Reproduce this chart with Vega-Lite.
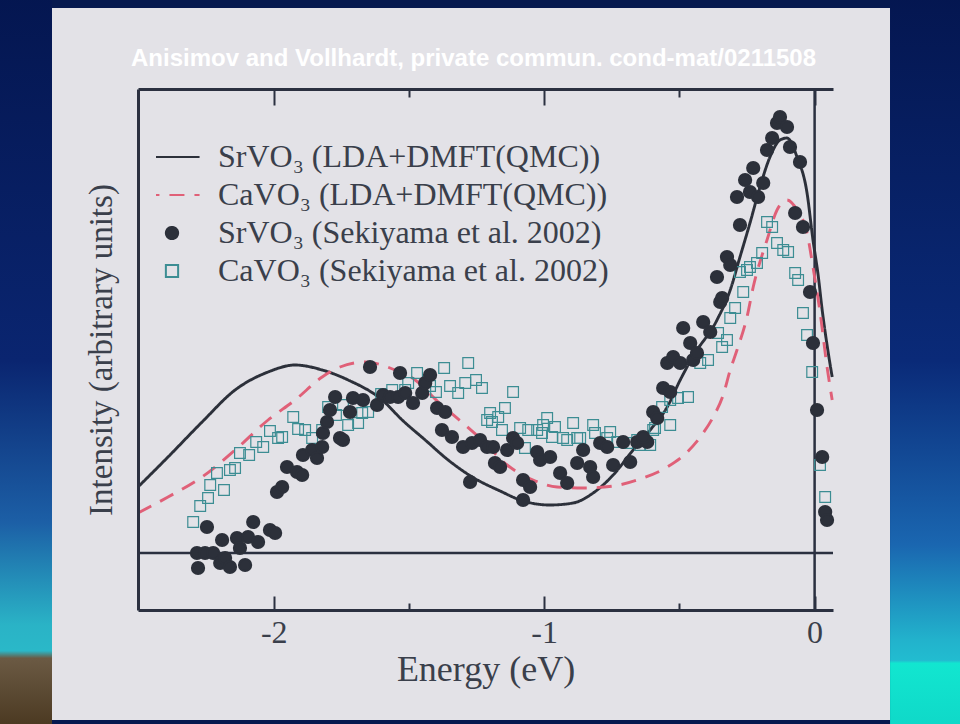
{
  "$schema": "https://vega.github.io/schema/vega-lite/v6.json",
  "width": 695,
  "height": 521,
  "autosize": {"type": "none"},
  "padding": {"left": 138, "top": 89, "right": 127, "bottom": 114},
  "background": "#06194f",
  "config": {
    "view": {"stroke": null},
    "axis": {
      "zindex": 1,
      "grid": false,
      "domainColor": "#2b3040",
      "domainWidth": 3,
      "tickColor": "#2b3040",
      "tickWidth": 2,
      "labelFont": "Liberation Serif",
      "labelFontSize": 32,
      "labelColor": "#3a3f4b",
      "titleFont": "Liberation Serif",
      "titleFontWeight": "normal",
      "titleColor": "#3a3f4b"
    }
  },
  "title": {
    "text": "Anisimov and Vollhardt, private commun. cond-mat/0211508",
    "font": "Liberation Sans",
    "fontWeight": "bold",
    "fontSize": 24,
    "color": "#ffffff",
    "anchor": "middle",
    "frame": "group",
    "baseline": "alphabetic",
    "offset": -97,
    "dx": -12
  },
  "resolve": {"axis": {"x": "independent", "y": "independent"}},
  "datasets": {
    "theory": [
      {"series": "SrVO₃ (LDA+DMFT(QMC))", "energy": -2.502, "intensity": 0.66},
      {"series": "SrVO₃ (LDA+DMFT(QMC))", "energy": -2.391, "intensity": 0.96},
      {"series": "SrVO₃ (LDA+DMFT(QMC))", "energy": -2.265, "intensity": 1.31},
      {"series": "SrVO₃ (LDA+DMFT(QMC))", "energy": -2.143, "intensity": 1.63},
      {"series": "SrVO₃ (LDA+DMFT(QMC))", "energy": -2.021, "intensity": 1.81},
      {"series": "SrVO₃ (LDA+DMFT(QMC))", "energy": -1.921, "intensity": 1.88},
      {"series": "SrVO₃ (LDA+DMFT(QMC))", "energy": -1.821, "intensity": 1.83},
      {"series": "SrVO₃ (LDA+DMFT(QMC))", "energy": -1.725, "intensity": 1.73},
      {"series": "SrVO₃ (LDA+DMFT(QMC))", "energy": -1.599, "intensity": 1.53},
      {"series": "SrVO₃ (LDA+DMFT(QMC))", "energy": -1.525, "intensity": 1.33},
      {"series": "SrVO₃ (LDA+DMFT(QMC))", "energy": -1.44, "intensity": 1.13},
      {"series": "SrVO₃ (LDA+DMFT(QMC))", "energy": -1.355, "intensity": 0.93},
      {"series": "SrVO₃ (LDA+DMFT(QMC))", "energy": -1.266, "intensity": 0.76},
      {"series": "SrVO₃ (LDA+DMFT(QMC))", "energy": -1.163, "intensity": 0.62},
      {"series": "SrVO₃ (LDA+DMFT(QMC))", "energy": -1.078, "intensity": 0.52},
      {"series": "SrVO₃ (LDA+DMFT(QMC))", "energy": -0.978, "intensity": 0.48},
      {"series": "SrVO₃ (LDA+DMFT(QMC))", "energy": -0.893, "intensity": 0.5},
      {"series": "SrVO₃ (LDA+DMFT(QMC))", "energy": -0.819, "intensity": 0.6},
      {"series": "SrVO₃ (LDA+DMFT(QMC))", "energy": -0.745, "intensity": 0.78},
      {"series": "SrVO₃ (LDA+DMFT(QMC))", "energy": -0.671, "intensity": 1.03},
      {"series": "SrVO₃ (LDA+DMFT(QMC))", "energy": -0.608, "intensity": 1.23},
      {"series": "SrVO₃ (LDA+DMFT(QMC))", "energy": -0.545, "intensity": 1.46},
      {"series": "SrVO₃ (LDA+DMFT(QMC))", "energy": -0.497, "intensity": 1.73},
      {"series": "SrVO₃ (LDA+DMFT(QMC))", "energy": -0.449, "intensity": 1.97},
      {"series": "SrVO₃ (LDA+DMFT(QMC))", "energy": -0.361, "intensity": 2.33},
      {"series": "SrVO₃ (LDA+DMFT(QMC))", "energy": -0.312, "intensity": 2.63},
      {"series": "SrVO₃ (LDA+DMFT(QMC))", "energy": -0.276, "intensity": 2.96},
      {"series": "SrVO₃ (LDA+DMFT(QMC))", "energy": -0.239, "intensity": 3.3},
      {"series": "SrVO₃ (LDA+DMFT(QMC))", "energy": -0.202, "intensity": 3.66},
      {"series": "SrVO₃ (LDA+DMFT(QMC))", "energy": -0.165, "intensity": 3.96},
      {"series": "SrVO₃ (LDA+DMFT(QMC))", "energy": -0.128, "intensity": 4.13},
      {"series": "SrVO₃ (LDA+DMFT(QMC))", "energy": -0.102, "intensity": 4.15},
      {"series": "SrVO₃ (LDA+DMFT(QMC))", "energy": -0.065, "intensity": 3.96},
      {"series": "SrVO₃ (LDA+DMFT(QMC))", "energy": -0.028, "intensity": 3.6},
      {"series": "SrVO₃ (LDA+DMFT(QMC))", "energy": -0.006, "intensity": 3.13},
      {"series": "SrVO₃ (LDA+DMFT(QMC))", "energy": 0.013, "intensity": 2.78},
      {"series": "SrVO₃ (LDA+DMFT(QMC))", "energy": 0.028, "intensity": 2.43},
      {"series": "SrVO₃ (LDA+DMFT(QMC))", "energy": 0.046, "intensity": 2.08},
      {"series": "SrVO₃ (LDA+DMFT(QMC))", "energy": 0.065, "intensity": 1.76},
      {"series": "CaVO₃ (LDA+DMFT(QMC))", "energy": -2.502, "intensity": 0.4},
      {"series": "CaVO₃ (LDA+DMFT(QMC))", "energy": -2.391, "intensity": 0.56},
      {"series": "CaVO₃ (LDA+DMFT(QMC))", "energy": -2.265, "intensity": 0.76},
      {"series": "CaVO₃ (LDA+DMFT(QMC))", "energy": -2.143, "intensity": 1.03},
      {"series": "CaVO₃ (LDA+DMFT(QMC))", "energy": -2.021, "intensity": 1.33},
      {"series": "CaVO₃ (LDA+DMFT(QMC))", "energy": -1.921, "intensity": 1.53},
      {"series": "CaVO₃ (LDA+DMFT(QMC))", "energy": -1.821, "intensity": 1.76},
      {"series": "CaVO₃ (LDA+DMFT(QMC))", "energy": -1.755, "intensity": 1.86},
      {"series": "CaVO₃ (LDA+DMFT(QMC))", "energy": -1.662, "intensity": 1.91},
      {"series": "CaVO₃ (LDA+DMFT(QMC))", "energy": -1.551, "intensity": 1.83},
      {"series": "CaVO₃ (LDA+DMFT(QMC))", "energy": -1.477, "intensity": 1.73},
      {"series": "CaVO₃ (LDA+DMFT(QMC))", "energy": -1.392, "intensity": 1.51},
      {"series": "CaVO₃ (LDA+DMFT(QMC))", "energy": -1.292, "intensity": 1.28},
      {"series": "CaVO₃ (LDA+DMFT(QMC))", "energy": -1.23, "intensity": 1.13},
      {"series": "CaVO₃ (LDA+DMFT(QMC))", "energy": -1.137, "intensity": 0.88},
      {"series": "CaVO₃ (LDA+DMFT(QMC))", "energy": -1.041, "intensity": 0.73},
      {"series": "CaVO₃ (LDA+DMFT(QMC))", "energy": -0.952, "intensity": 0.66},
      {"series": "CaVO₃ (LDA+DMFT(QMC))", "energy": -0.856, "intensity": 0.65},
      {"series": "CaVO₃ (LDA+DMFT(QMC))", "energy": -0.745, "intensity": 0.67},
      {"series": "CaVO₃ (LDA+DMFT(QMC))", "energy": -0.645, "intensity": 0.74},
      {"series": "CaVO₃ (LDA+DMFT(QMC))", "energy": -0.545, "intensity": 0.86},
      {"series": "CaVO₃ (LDA+DMFT(QMC))", "energy": -0.471, "intensity": 1.01},
      {"series": "CaVO₃ (LDA+DMFT(QMC))", "energy": -0.412, "intensity": 1.2},
      {"series": "CaVO₃ (LDA+DMFT(QMC))", "energy": -0.375, "intensity": 1.36},
      {"series": "CaVO₃ (LDA+DMFT(QMC))", "energy": -0.338, "intensity": 1.58},
      {"series": "CaVO₃ (LDA+DMFT(QMC))", "energy": -0.312, "intensity": 1.83},
      {"series": "CaVO₃ (LDA+DMFT(QMC))", "energy": -0.287, "intensity": 2.03},
      {"series": "CaVO₃ (LDA+DMFT(QMC))", "energy": -0.25, "intensity": 2.36},
      {"series": "CaVO₃ (LDA+DMFT(QMC))", "energy": -0.227, "intensity": 2.66},
      {"series": "CaVO₃ (LDA+DMFT(QMC))", "energy": -0.176, "intensity": 3.13},
      {"series": "CaVO₃ (LDA+DMFT(QMC))", "energy": -0.139, "intensity": 3.43},
      {"series": "CaVO₃ (LDA+DMFT(QMC))", "energy": -0.102, "intensity": 3.53},
      {"series": "CaVO₃ (LDA+DMFT(QMC))", "energy": -0.065, "intensity": 3.43},
      {"series": "CaVO₃ (LDA+DMFT(QMC))", "energy": -0.028, "intensity": 3.2},
      {"series": "CaVO₃ (LDA+DMFT(QMC))", "energy": -0.006, "intensity": 2.86},
      {"series": "CaVO₃ (LDA+DMFT(QMC))", "energy": 0.02, "intensity": 2.41},
      {"series": "CaVO₃ (LDA+DMFT(QMC))", "energy": 0.046, "intensity": 1.86},
      {"series": "CaVO₃ (LDA+DMFT(QMC))", "energy": 0.065, "intensity": 1.53}
    ],
    "experiment": [
      {"series": "SrVO₃ (Sekiyama et al. 2002)", "energy": -2.284, "intensity": 0.0},
      {"series": "SrVO₃ (Sekiyama et al. 2002)", "energy": -2.28, "intensity": -0.15},
      {"series": "SrVO₃ (Sekiyama et al. 2002)", "energy": -2.254, "intensity": 0.0},
      {"series": "SrVO₃ (Sekiyama et al. 2002)", "energy": -2.247, "intensity": 0.26},
      {"series": "SrVO₃ (Sekiyama et al. 2002)", "energy": -2.224, "intensity": 0.0},
      {"series": "SrVO₃ (Sekiyama et al. 2002)", "energy": -2.198, "intensity": -0.1},
      {"series": "SrVO₃ (Sekiyama et al. 2002)", "energy": -2.191, "intensity": 0.13},
      {"series": "SrVO₃ (Sekiyama et al. 2002)", "energy": -2.18, "intensity": -0.05},
      {"series": "SrVO₃ (Sekiyama et al. 2002)", "energy": -2.162, "intensity": -0.14},
      {"series": "SrVO₃ (Sekiyama et al. 2002)", "energy": -2.136, "intensity": 0.15},
      {"series": "SrVO₃ (Sekiyama et al. 2002)", "energy": -2.125, "intensity": 0.05},
      {"series": "SrVO₃ (Sekiyama et al. 2002)", "energy": -2.106, "intensity": -0.12},
      {"series": "SrVO₃ (Sekiyama et al. 2002)", "energy": -2.095, "intensity": 0.16},
      {"series": "SrVO₃ (Sekiyama et al. 2002)", "energy": -2.076, "intensity": 0.31},
      {"series": "SrVO₃ (Sekiyama et al. 2002)", "energy": -2.058, "intensity": 0.11},
      {"series": "SrVO₃ (Sekiyama et al. 2002)", "energy": -2.014, "intensity": 0.23},
      {"series": "SrVO₃ (Sekiyama et al. 2002)", "energy": -1.995, "intensity": 0.2},
      {"series": "SrVO₃ (Sekiyama et al. 2002)", "energy": -1.988, "intensity": 0.61},
      {"series": "SrVO₃ (Sekiyama et al. 2002)", "energy": -1.969, "intensity": 0.66},
      {"series": "SrVO₃ (Sekiyama et al. 2002)", "energy": -1.951, "intensity": 0.86},
      {"series": "SrVO₃ (Sekiyama et al. 2002)", "energy": -1.914, "intensity": 0.81},
      {"series": "SrVO₃ (Sekiyama et al. 2002)", "energy": -1.895, "intensity": 0.78},
      {"series": "SrVO₃ (Sekiyama et al. 2002)", "energy": -1.892, "intensity": 0.98},
      {"series": "SrVO₃ (Sekiyama et al. 2002)", "energy": -1.858, "intensity": 1.03},
      {"series": "SrVO₃ (Sekiyama et al. 2002)", "energy": -1.84, "intensity": 0.95},
      {"series": "SrVO₃ (Sekiyama et al. 2002)", "energy": -1.821, "intensity": 1.06},
      {"series": "SrVO₃ (Sekiyama et al. 2002)", "energy": -1.818, "intensity": 1.2},
      {"series": "SrVO₃ (Sekiyama et al. 2002)", "energy": -1.803, "intensity": 1.31},
      {"series": "SrVO₃ (Sekiyama et al. 2002)", "energy": -1.792, "intensity": 1.43},
      {"series": "SrVO₃ (Sekiyama et al. 2002)", "energy": -1.773, "intensity": 1.56},
      {"series": "SrVO₃ (Sekiyama et al. 2002)", "energy": -1.755, "intensity": 1.15},
      {"series": "SrVO₃ (Sekiyama et al. 2002)", "energy": -1.744, "intensity": 1.13},
      {"series": "SrVO₃ (Sekiyama et al. 2002)", "energy": -1.718, "intensity": 1.41},
      {"series": "SrVO₃ (Sekiyama et al. 2002)", "energy": -1.707, "intensity": 1.55},
      {"series": "SrVO₃ (Sekiyama et al. 2002)", "energy": -1.67, "intensity": 1.53},
      {"series": "SrVO₃ (Sekiyama et al. 2002)", "energy": -1.644, "intensity": 1.86},
      {"series": "SrVO₃ (Sekiyama et al. 2002)", "energy": -1.618, "intensity": 1.48},
      {"series": "SrVO₃ (Sekiyama et al. 2002)", "energy": -1.596, "intensity": 1.58},
      {"series": "SrVO₃ (Sekiyama et al. 2002)", "energy": -1.57, "intensity": 1.56},
      {"series": "SrVO₃ (Sekiyama et al. 2002)", "energy": -1.54, "intensity": 1.56},
      {"series": "SrVO₃ (Sekiyama et al. 2002)", "energy": -1.533, "intensity": 1.8},
      {"series": "SrVO₃ (Sekiyama et al. 2002)", "energy": -1.514, "intensity": 1.6},
      {"series": "SrVO₃ (Sekiyama et al. 2002)", "energy": -1.485, "intensity": 1.5},
      {"series": "SrVO₃ (Sekiyama et al. 2002)", "energy": -1.451, "intensity": 1.6},
      {"series": "SrVO₃ (Sekiyama et al. 2002)", "energy": -1.44, "intensity": 1.7},
      {"series": "SrVO₃ (Sekiyama et al. 2002)", "energy": -1.422, "intensity": 1.78},
      {"series": "SrVO₃ (Sekiyama et al. 2002)", "energy": -1.396, "intensity": 1.45},
      {"series": "SrVO₃ (Sekiyama et al. 2002)", "energy": -1.366, "intensity": 1.41},
      {"series": "SrVO₃ (Sekiyama et al. 2002)", "energy": -1.378, "intensity": 1.23},
      {"series": "SrVO₃ (Sekiyama et al. 2002)", "energy": -1.341, "intensity": 1.16},
      {"series": "SrVO₃ (Sekiyama et al. 2002)", "energy": -1.3, "intensity": 1.06},
      {"series": "SrVO₃ (Sekiyama et al. 2002)", "energy": -1.274, "intensity": 0.71},
      {"series": "SrVO₃ (Sekiyama et al. 2002)", "energy": -1.267, "intensity": 1.1},
      {"series": "SrVO₃ (Sekiyama et al. 2002)", "energy": -1.237, "intensity": 1.13},
      {"series": "SrVO₃ (Sekiyama et al. 2002)", "energy": -1.211, "intensity": 1.06},
      {"series": "SrVO₃ (Sekiyama et al. 2002)", "energy": -1.182, "intensity": 0.9},
      {"series": "SrVO₃ (Sekiyama et al. 2002)", "energy": -1.189, "intensity": 1.06},
      {"series": "SrVO₃ (Sekiyama et al. 2002)", "energy": -1.163, "intensity": 0.86},
      {"series": "SrVO₃ (Sekiyama et al. 2002)", "energy": -1.137, "intensity": 1.03},
      {"series": "SrVO₃ (Sekiyama et al. 2002)", "energy": -1.115, "intensity": 1.15},
      {"series": "SrVO₃ (Sekiyama et al. 2002)", "energy": -1.1, "intensity": 1.1},
      {"series": "SrVO₃ (Sekiyama et al. 2002)", "energy": -1.078, "intensity": 0.73},
      {"series": "SrVO₃ (Sekiyama et al. 2002)", "energy": -1.052, "intensity": 0.66},
      {"series": "SrVO₃ (Sekiyama et al. 2002)", "energy": -1.026, "intensity": 1.01},
      {"series": "SrVO₃ (Sekiyama et al. 2002)", "energy": -1.015, "intensity": 0.93},
      {"series": "SrVO₃ (Sekiyama et al. 2002)", "energy": -0.978, "intensity": 0.96},
      {"series": "SrVO₃ (Sekiyama et al. 2002)", "energy": -1.078, "intensity": 0.53},
      {"series": "SrVO₃ (Sekiyama et al. 2002)", "energy": -0.941, "intensity": 0.8},
      {"series": "SrVO₃ (Sekiyama et al. 2002)", "energy": -0.915, "intensity": 0.7},
      {"series": "SrVO₃ (Sekiyama et al. 2002)", "energy": -0.878, "intensity": 0.9},
      {"series": "SrVO₃ (Sekiyama et al. 2002)", "energy": -0.856, "intensity": 1.03},
      {"series": "SrVO₃ (Sekiyama et al. 2002)", "energy": -0.83, "intensity": 0.86},
      {"series": "SrVO₃ (Sekiyama et al. 2002)", "energy": -0.819, "intensity": 0.76},
      {"series": "SrVO₃ (Sekiyama et al. 2002)", "energy": -0.793, "intensity": 1.1},
      {"series": "SrVO₃ (Sekiyama et al. 2002)", "energy": -0.767, "intensity": 1.06},
      {"series": "SrVO₃ (Sekiyama et al. 2002)", "energy": -0.745, "intensity": 0.88},
      {"series": "SrVO₃ (Sekiyama et al. 2002)", "energy": -0.708, "intensity": 1.11},
      {"series": "SrVO₃ (Sekiyama et al. 2002)", "energy": -0.682, "intensity": 0.91},
      {"series": "SrVO₃ (Sekiyama et al. 2002)", "energy": -0.656, "intensity": 1.11},
      {"series": "SrVO₃ (Sekiyama et al. 2002)", "energy": -0.619, "intensity": 1.11},
      {"series": "SrVO₃ (Sekiyama et al. 2002)", "energy": -0.634, "intensity": 1.16},
      {"series": "SrVO₃ (Sekiyama et al. 2002)", "energy": -0.597, "intensity": 1.41},
      {"series": "SrVO₃ (Sekiyama et al. 2002)", "energy": -0.582, "intensity": 1.35},
      {"series": "SrVO₃ (Sekiyama et al. 2002)", "energy": -0.56, "intensity": 1.65},
      {"series": "SrVO₃ (Sekiyama et al. 2002)", "energy": -0.534, "intensity": 1.61},
      {"series": "SrVO₃ (Sekiyama et al. 2002)", "energy": -0.545, "intensity": 1.9},
      {"series": "SrVO₃ (Sekiyama et al. 2002)", "energy": -0.523, "intensity": 1.96},
      {"series": "SrVO₃ (Sekiyama et al. 2002)", "energy": -0.497, "intensity": 1.9},
      {"series": "SrVO₃ (Sekiyama et al. 2002)", "energy": -0.46, "intensity": 2.1},
      {"series": "SrVO₃ (Sekiyama et al. 2002)", "energy": -0.449, "intensity": 1.93},
      {"series": "SrVO₃ (Sekiyama et al. 2002)", "energy": -0.435, "intensity": 2.0},
      {"series": "SrVO₃ (Sekiyama et al. 2002)", "energy": -0.486, "intensity": 2.25},
      {"series": "SrVO₃ (Sekiyama et al. 2002)", "energy": -0.412, "intensity": 2.31},
      {"series": "SrVO₃ (Sekiyama et al. 2002)", "energy": -0.386, "intensity": 2.21},
      {"series": "SrVO₃ (Sekiyama et al. 2002)", "energy": -0.349, "intensity": 2.51},
      {"series": "SrVO₃ (Sekiyama et al. 2002)", "energy": -0.342, "intensity": 2.55},
      {"series": "SrVO₃ (Sekiyama et al. 2002)", "energy": -0.361, "intensity": 2.76},
      {"series": "SrVO₃ (Sekiyama et al. 2002)", "energy": -0.324, "intensity": 2.96},
      {"series": "SrVO₃ (Sekiyama et al. 2002)", "energy": -0.312, "intensity": 2.88},
      {"series": "SrVO₃ (Sekiyama et al. 2002)", "energy": -0.276, "intensity": 3.28},
      {"series": "SrVO₃ (Sekiyama et al. 2002)", "energy": -0.287, "intensity": 3.56},
      {"series": "SrVO₃ (Sekiyama et al. 2002)", "energy": -0.239, "intensity": 3.61},
      {"series": "SrVO₃ (Sekiyama et al. 2002)", "energy": -0.209, "intensity": 3.56},
      {"series": "SrVO₃ (Sekiyama et al. 2002)", "energy": -0.257, "intensity": 3.73},
      {"series": "SrVO₃ (Sekiyama et al. 2002)", "energy": -0.227, "intensity": 3.85},
      {"series": "SrVO₃ (Sekiyama et al. 2002)", "energy": -0.19, "intensity": 3.7},
      {"series": "SrVO₃ (Sekiyama et al. 2002)", "energy": -0.176, "intensity": 4.03},
      {"series": "SrVO₃ (Sekiyama et al. 2002)", "energy": -0.157, "intensity": 4.15},
      {"series": "SrVO₃ (Sekiyama et al. 2002)", "energy": -0.139, "intensity": 4.3},
      {"series": "SrVO₃ (Sekiyama et al. 2002)", "energy": -0.128, "intensity": 4.36},
      {"series": "SrVO₃ (Sekiyama et al. 2002)", "energy": -0.102, "intensity": 4.26},
      {"series": "SrVO₃ (Sekiyama et al. 2002)", "energy": -0.091, "intensity": 4.06},
      {"series": "SrVO₃ (Sekiyama et al. 2002)", "energy": -0.054, "intensity": 3.91},
      {"series": "SrVO₃ (Sekiyama et al. 2002)", "energy": -0.072, "intensity": 3.4},
      {"series": "SrVO₃ (Sekiyama et al. 2002)", "energy": -0.043, "intensity": 3.26},
      {"series": "SrVO₃ (Sekiyama et al. 2002)", "energy": -0.017, "intensity": 2.61},
      {"series": "SrVO₃ (Sekiyama et al. 2002)", "energy": -0.006, "intensity": 2.1},
      {"series": "SrVO₃ (Sekiyama et al. 2002)", "energy": 0.009, "intensity": 1.43},
      {"series": "SrVO₃ (Sekiyama et al. 2002)", "energy": 0.028, "intensity": 0.96},
      {"series": "SrVO₃ (Sekiyama et al. 2002)", "energy": 0.039, "intensity": 0.41},
      {"series": "SrVO₃ (Sekiyama et al. 2002)", "energy": 0.046, "intensity": 0.33},
      {"series": "CaVO₃ (Sekiyama et al. 2002)", "energy": -2.298, "intensity": 0.31},
      {"series": "CaVO₃ (Sekiyama et al. 2002)", "energy": -2.272, "intensity": 0.47},
      {"series": "CaVO₃ (Sekiyama et al. 2002)", "energy": -2.243, "intensity": 0.55},
      {"series": "CaVO₃ (Sekiyama et al. 2002)", "energy": -2.235, "intensity": 0.68},
      {"series": "CaVO₃ (Sekiyama et al. 2002)", "energy": -2.21, "intensity": 0.8},
      {"series": "CaVO₃ (Sekiyama et al. 2002)", "energy": -2.184, "intensity": 0.63},
      {"series": "CaVO₃ (Sekiyama et al. 2002)", "energy": -2.162, "intensity": 0.83},
      {"series": "CaVO₃ (Sekiyama et al. 2002)", "energy": -2.143, "intensity": 0.85},
      {"series": "CaVO₃ (Sekiyama et al. 2002)", "energy": -2.125, "intensity": 1.0},
      {"series": "CaVO₃ (Sekiyama et al. 2002)", "energy": -2.091, "intensity": 0.98},
      {"series": "CaVO₃ (Sekiyama et al. 2002)", "energy": -2.065, "intensity": 1.11},
      {"series": "CaVO₃ (Sekiyama et al. 2002)", "energy": -2.039, "intensity": 1.06},
      {"series": "CaVO₃ (Sekiyama et al. 2002)", "energy": -2.014, "intensity": 1.22},
      {"series": "CaVO₃ (Sekiyama et al. 2002)", "energy": -1.984, "intensity": 1.15},
      {"series": "CaVO₃ (Sekiyama et al. 2002)", "energy": -1.969, "intensity": 1.16},
      {"series": "CaVO₃ (Sekiyama et al. 2002)", "energy": -1.928, "intensity": 1.36},
      {"series": "CaVO₃ (Sekiyama et al. 2002)", "energy": -1.91, "intensity": 1.24},
      {"series": "CaVO₃ (Sekiyama et al. 2002)", "energy": -1.884, "intensity": 1.23},
      {"series": "CaVO₃ (Sekiyama et al. 2002)", "energy": -1.858, "intensity": 1.15},
      {"series": "CaVO₃ (Sekiyama et al. 2002)", "energy": -1.821, "intensity": 1.23},
      {"series": "CaVO₃ (Sekiyama et al. 2002)", "energy": -1.799, "intensity": 1.46},
      {"series": "CaVO₃ (Sekiyama et al. 2002)", "energy": -1.77, "intensity": 1.38},
      {"series": "CaVO₃ (Sekiyama et al. 2002)", "energy": -1.744, "intensity": 1.48},
      {"series": "CaVO₃ (Sekiyama et al. 2002)", "energy": -1.725, "intensity": 1.28},
      {"series": "CaVO₃ (Sekiyama et al. 2002)", "energy": -1.688, "intensity": 1.3},
      {"series": "CaVO₃ (Sekiyama et al. 2002)", "energy": -1.673, "intensity": 1.4},
      {"series": "CaVO₃ (Sekiyama et al. 2002)", "energy": -1.651, "intensity": 1.41},
      {"series": "CaVO₃ (Sekiyama et al. 2002)", "energy": -1.603, "intensity": 1.59},
      {"series": "CaVO₃ (Sekiyama et al. 2002)", "energy": -1.562, "intensity": 1.63},
      {"series": "CaVO₃ (Sekiyama et al. 2002)", "energy": -1.514, "intensity": 1.63},
      {"series": "CaVO₃ (Sekiyama et al. 2002)", "energy": -1.503, "intensity": 1.7},
      {"series": "CaVO₃ (Sekiyama et al. 2002)", "energy": -1.47, "intensity": 1.8},
      {"series": "CaVO₃ (Sekiyama et al. 2002)", "energy": -1.422, "intensity": 1.67},
      {"series": "CaVO₃ (Sekiyama et al. 2002)", "energy": -1.4, "intensity": 1.61},
      {"series": "CaVO₃ (Sekiyama et al. 2002)", "energy": -1.37, "intensity": 1.85},
      {"series": "CaVO₃ (Sekiyama et al. 2002)", "energy": -1.348, "intensity": 1.67},
      {"series": "CaVO₃ (Sekiyama et al. 2002)", "energy": -1.318, "intensity": 1.6},
      {"series": "CaVO₃ (Sekiyama et al. 2002)", "energy": -1.292, "intensity": 1.7},
      {"series": "CaVO₃ (Sekiyama et al. 2002)", "energy": -1.281, "intensity": 1.9},
      {"series": "CaVO₃ (Sekiyama et al. 2002)", "energy": -1.252, "intensity": 1.73},
      {"series": "CaVO₃ (Sekiyama et al. 2002)", "energy": -1.23, "intensity": 1.65},
      {"series": "CaVO₃ (Sekiyama et al. 2002)", "energy": -1.211, "intensity": 1.33},
      {"series": "CaVO₃ (Sekiyama et al. 2002)", "energy": -1.193, "intensity": 1.31},
      {"series": "CaVO₃ (Sekiyama et al. 2002)", "energy": -1.2, "intensity": 1.4},
      {"series": "CaVO₃ (Sekiyama et al. 2002)", "energy": -1.17, "intensity": 1.36},
      {"series": "CaVO₃ (Sekiyama et al. 2002)", "energy": -1.145, "intensity": 1.45},
      {"series": "CaVO₃ (Sekiyama et al. 2002)", "energy": -1.156, "intensity": 1.23},
      {"series": "CaVO₃ (Sekiyama et al. 2002)", "energy": -1.115, "intensity": 1.61},
      {"series": "CaVO₃ (Sekiyama et al. 2002)", "energy": -1.089, "intensity": 1.25},
      {"series": "CaVO₃ (Sekiyama et al. 2002)", "energy": -1.071, "intensity": 1.05},
      {"series": "CaVO₃ (Sekiyama et al. 2002)", "energy": -1.059, "intensity": 1.23},
      {"series": "CaVO₃ (Sekiyama et al. 2002)", "energy": -1.026, "intensity": 1.23},
      {"series": "CaVO₃ (Sekiyama et al. 2002)", "energy": -1.004, "intensity": 1.28},
      {"series": "CaVO₃ (Sekiyama et al. 2002)", "energy": -0.989, "intensity": 1.35},
      {"series": "CaVO₃ (Sekiyama et al. 2002)", "energy": -1.008, "intensity": 1.2},
      {"series": "CaVO₃ (Sekiyama et al. 2002)", "energy": -0.96, "intensity": 1.26},
      {"series": "CaVO₃ (Sekiyama et al. 2002)", "energy": -0.971, "intensity": 1.16},
      {"series": "CaVO₃ (Sekiyama et al. 2002)", "energy": -0.93, "intensity": 1.15},
      {"series": "CaVO₃ (Sekiyama et al. 2002)", "energy": -0.893, "intensity": 1.3},
      {"series": "CaVO₃ (Sekiyama et al. 2002)", "energy": -0.878, "intensity": 1.15},
      {"series": "CaVO₃ (Sekiyama et al. 2002)", "energy": -0.819, "intensity": 1.28},
      {"series": "CaVO₃ (Sekiyama et al. 2002)", "energy": -0.812, "intensity": 1.2},
      {"series": "CaVO₃ (Sekiyama et al. 2002)", "energy": -0.756, "intensity": 1.21},
      {"series": "CaVO₃ (Sekiyama et al. 2002)", "energy": -0.767, "intensity": 1.15},
      {"series": "CaVO₃ (Sekiyama et al. 2002)", "energy": -0.915, "intensity": 1.13},
      {"series": "CaVO₃ (Sekiyama et al. 2002)", "energy": -0.867, "intensity": 1.15},
      {"series": "CaVO₃ (Sekiyama et al. 2002)", "energy": -0.73, "intensity": 1.11},
      {"series": "CaVO₃ (Sekiyama et al. 2002)", "energy": -0.693, "intensity": 1.1},
      {"series": "CaVO₃ (Sekiyama et al. 2002)", "energy": -0.656, "intensity": 1.13},
      {"series": "CaVO₃ (Sekiyama et al. 2002)", "energy": -0.645, "intensity": 1.08},
      {"series": "CaVO₃ (Sekiyama et al. 2002)", "energy": -0.597, "intensity": 1.23},
      {"series": "CaVO₃ (Sekiyama et al. 2002)", "energy": -0.608, "intensity": 1.08},
      {"series": "CaVO₃ (Sekiyama et al. 2002)", "energy": -0.59, "intensity": 1.25},
      {"series": "CaVO₃ (Sekiyama et al. 2002)", "energy": -0.564, "intensity": 1.46},
      {"series": "CaVO₃ (Sekiyama et al. 2002)", "energy": -0.534, "intensity": 1.28},
      {"series": "CaVO₃ (Sekiyama et al. 2002)", "energy": -0.534, "intensity": 1.53},
      {"series": "CaVO₃ (Sekiyama et al. 2002)", "energy": -0.505, "intensity": 1.55},
      {"series": "CaVO₃ (Sekiyama et al. 2002)", "energy": -0.468, "intensity": 1.56},
      {"series": "CaVO₃ (Sekiyama et al. 2002)", "energy": -0.423, "intensity": 1.9},
      {"series": "CaVO₃ (Sekiyama et al. 2002)", "energy": -0.394, "intensity": 1.93},
      {"series": "CaVO₃ (Sekiyama et al. 2002)", "energy": -0.357, "intensity": 2.2},
      {"series": "CaVO₃ (Sekiyama et al. 2002)", "energy": -0.342, "intensity": 2.06},
      {"series": "CaVO₃ (Sekiyama et al. 2002)", "energy": -0.324, "intensity": 2.13},
      {"series": "CaVO₃ (Sekiyama et al. 2002)", "energy": -0.312, "intensity": 2.35},
      {"series": "CaVO₃ (Sekiyama et al. 2002)", "energy": -0.294, "intensity": 2.45},
      {"series": "CaVO₃ (Sekiyama et al. 2002)", "energy": -0.264, "intensity": 2.61},
      {"series": "CaVO₃ (Sekiyama et al. 2002)", "energy": -0.276, "intensity": 2.81},
      {"series": "CaVO₃ (Sekiyama et al. 2002)", "energy": -0.25, "intensity": 2.83},
      {"series": "CaVO₃ (Sekiyama et al. 2002)", "energy": -0.239, "intensity": 2.86},
      {"series": "CaVO₃ (Sekiyama et al. 2002)", "energy": -0.213, "intensity": 2.9},
      {"series": "CaVO₃ (Sekiyama et al. 2002)", "energy": -0.194, "intensity": 3.0},
      {"series": "CaVO₃ (Sekiyama et al. 2002)", "energy": -0.176, "intensity": 3.31},
      {"series": "CaVO₃ (Sekiyama et al. 2002)", "energy": -0.157, "intensity": 3.26},
      {"series": "CaVO₃ (Sekiyama et al. 2002)", "energy": -0.139, "intensity": 3.1},
      {"series": "CaVO₃ (Sekiyama et al. 2002)", "energy": -0.116, "intensity": 3.03},
      {"series": "CaVO₃ (Sekiyama et al. 2002)", "energy": -0.098, "intensity": 3.01},
      {"series": "CaVO₃ (Sekiyama et al. 2002)", "energy": -0.072, "intensity": 2.8},
      {"series": "CaVO₃ (Sekiyama et al. 2002)", "energy": -0.061, "intensity": 2.73},
      {"series": "CaVO₃ (Sekiyama et al. 2002)", "energy": -0.043, "intensity": 2.4},
      {"series": "CaVO₃ (Sekiyama et al. 2002)", "energy": -0.028, "intensity": 2.18},
      {"series": "CaVO₃ (Sekiyama et al. 2002)", "energy": -0.009, "intensity": 1.81},
      {"series": "CaVO₃ (Sekiyama et al. 2002)", "energy": 0.02, "intensity": 0.88},
      {"series": "CaVO₃ (Sekiyama et al. 2002)", "energy": 0.039, "intensity": 0.56}
    ]
  },
  "layer": [
    {
      "data": {"values": [{}]},
      "mark": {"type": "rect", "color": "#e3e2e7"},
      "encoding": {
        "x": {"datum": -2.82, "type": "quantitative", "scale": {"domain": [-2.502, 0.068], "nice": false, "zero": false},
          "axis": {"orient": "top", "zindex": 1, "values": [-2, -1, 0], "tickSize": -16, "labels": false, "domain": true, "title": null}},
        "x2": {"datum": 0.279},
        "y": {"datum": 5.45, "type": "quantitative", "scale": {"domain": [-0.57, 4.64], "nice": false, "zero": false}, "axis": null},
        "y2": {"datum": -1.67}
      }
    },
    {
      "data": {"values": [{}]},
      "mark": {"type": "rect", "color": {"gradient": "linear", "x1": 0, "y1": 0, "x2": 0, "y2": 1, "stops": [
        {"offset": 0, "color": "#041650"},
        {"offset": 0.5, "color": "#0a2570"},
        {"offset": 0.72, "color": "#1c5fa6"},
        {"offset": 0.86, "color": "#2ab3c6"},
        {"offset": 0.895, "color": "#2ab8c8"},
        {"offset": 0.905, "color": "#6b5a44"},
        {"offset": 1, "color": "#4a3820"}
      ]}},
      "encoding": {
        "x": {"datum": -3.03, "type": "quantitative", "axis": null},
        "x2": {"datum": -2.82},
        "y": {"datum": 5.6, "type": "quantitative", "axis": null},
        "y2": {"datum": -1.75}
      }
    },
    {
      "data": {"values": [{}]},
      "mark": {"type": "rect", "color": {"gradient": "linear", "x1": 0, "y1": 0, "x2": 0, "y2": 1, "stops": [
        {"offset": 0, "color": "#041650"},
        {"offset": 0.5, "color": "#0a2a78"},
        {"offset": 0.75, "color": "#1a66b0"},
        {"offset": 0.88, "color": "#22b2cc"},
        {"offset": 0.908, "color": "#22bcd0"},
        {"offset": 0.912, "color": "#12e6d0"},
        {"offset": 1, "color": "#0fd8c8"}
      ]}},
      "encoding": {
        "x": {"datum": 0.279, "type": "quantitative", "axis": null},
        "x2": {"datum": 0.56},
        "y": {"datum": 5.6, "type": "quantitative", "axis": null},
        "y2": {"datum": -1.75}
      }
    },
    {
      "data": {"values": [{}]},
      "mark": {"type": "rule", "color": "#2b3040", "strokeWidth": 2.5},
      "encoding": {
        "y": {"datum": 0, "type": "quantitative", "axis": null}
      }
    },
    {
      "data": {"values": [{}]},
      "mark": {"type": "rule", "color": "#2b3040", "strokeWidth": 2.5},
      "encoding": {
        "x": {"datum": 0, "type": "quantitative", "axis": {"orient": "top", "zindex": 1, "values": [-1.5, -0.5], "tickSize": -8, "labels": false, "domain": false, "title": null}}
      }
    },
    {
      "data": {"name": "theory"},
      "mark": {"type": "line", "interpolate": "monotone", "strokeWidth": 2.9},
      "encoding": {
        "x": {"field": "energy", "type": "quantitative", "scale": {"domain": [-2.502, 0.068], "nice": false, "zero": false},
          "axis": {"orient": "bottom", "zindex": 1, "values": [-2, -1, 0], "tickSize": -14, "labelPadding": 21, "labelExpr": "toString(datum.value)", "labelFlush": false, "title": "Energy (eV)", "titleFontSize": 36, "titlePadding": 4}},
        "y": {"field": "intensity", "type": "quantitative", "scale": {"domain": [-0.57, 4.64], "nice": false, "zero": false},
          "axis": {"orient": "left", "zindex": 1, "labels": false, "ticks": false, "domain": true, "title": "Intensity (arbitrary units)", "titleFontSize": 33, "titlePadding": 20}},
        "stroke": {
          "field": "series", "type": "nominal",
          "scale": {
            "domain": ["SrVO₃ (LDA+DMFT(QMC))", "CaVO₃ (LDA+DMFT(QMC))", "SrVO₃ (Sekiyama et al. 2002)", "CaVO₃ (Sekiyama et al. 2002)"],
            "range": ["#2c303a", "#e06078", "#2c303a", "#3c8d93"]
          },
          "legend": {
            "orient": "none", "legendX": 18, "legendY": 49, "direction": "vertical",
            "title": null, "padding": 0, "symbolSize": 150, "symbolStrokeWidth": 2, "clipHeight": 38, "rowPadding": 0,
            "labelOffset": 30, "symbolOffset": 0, "labelFont": "Liberation Serif", "labelFontSize": 32,
            "labelColor": "#3a3f4b", "labelLimit": 700
          }
        },
        "strokeDash": {
          "field": "series", "type": "nominal",
          "scale": {
            "domain": ["SrVO₃ (LDA+DMFT(QMC))", "CaVO₃ (LDA+DMFT(QMC))", "SrVO₃ (Sekiyama et al. 2002)", "CaVO₃ (Sekiyama et al. 2002)"],
            "range": [[1, 0], [15, 10], [1, 0], [1, 0]]
          },
          "legend": {
            "orient": "none", "legendX": 18, "legendY": 49, "direction": "vertical",
            "title": null, "padding": 0, "symbolSize": 150, "symbolStrokeWidth": 2, "clipHeight": 38, "rowPadding": 0,
            "labelOffset": 30, "symbolOffset": 0, "labelFont": "Liberation Serif", "labelFontSize": 32,
            "labelColor": "#3a3f4b", "labelLimit": 700
          }
        }
      }
    },
    {
      "data": {"name": "experiment"},
      "transform": [{"filter": "datum.series == 'CaVO₃ (Sekiyama et al. 2002)'"}],
      "mark": {"type": "point", "shape": "square", "filled": false, "size": 115, "strokeWidth": 1.2, "opacity": 1},
      "encoding": {
        "x": {"field": "energy", "type": "quantitative", "axis": {"orient": "bottom", "zindex": 1, "values": [-1.5, -0.5], "tickSize": -7, "labels": false, "domain": false, "title": null}},
        "y": {"field": "intensity", "type": "quantitative", "axis": null},
        "stroke": {"field": "series", "type": "nominal", "legend": null}
      }
    },
    {
      "data": {"name": "experiment"},
      "transform": [{"filter": "datum.series == 'SrVO₃ (Sekiyama et al. 2002)'"}],
      "mark": {"type": "point", "filled": true, "size": 150, "opacity": 1},
      "encoding": {
        "x": {"field": "energy", "type": "quantitative", "axis": null},
        "y": {"field": "intensity", "type": "quantitative", "axis": null},
        "stroke": {"field": "series", "type": "nominal", "legend": null},
        "fill": {
          "field": "series", "type": "nominal",
          "scale": {
            "domain": ["SrVO₃ (LDA+DMFT(QMC))", "CaVO₃ (LDA+DMFT(QMC))", "SrVO₃ (Sekiyama et al. 2002)", "CaVO₃ (Sekiyama et al. 2002)"],
            "range": ["transparent", "transparent", "#2c303a", "transparent"]
          },
          "legend": {
            "orient": "none", "legendX": 18, "legendY": 49, "direction": "vertical",
            "title": null, "padding": 0, "symbolSize": 150, "symbolStrokeWidth": 2, "clipHeight": 38, "rowPadding": 0,
            "labelOffset": 30, "symbolOffset": 0, "labelFont": "Liberation Serif", "labelFontSize": 32,
            "labelColor": "#3a3f4b", "labelLimit": 700
          }
        },
        "shape": {
          "field": "series", "type": "nominal",
          "scale": {
            "domain": ["SrVO₃ (LDA+DMFT(QMC))", "CaVO₃ (LDA+DMFT(QMC))", "SrVO₃ (Sekiyama et al. 2002)", "CaVO₃ (Sekiyama et al. 2002)"],
            "range": ["M-4.5,0H4.5", "M-4.5,0H4.5", "circle", "square"]
          },
          "legend": {
            "orient": "none", "legendX": 18, "legendY": 49, "direction": "vertical",
            "title": null, "padding": 0, "symbolSize": 150, "symbolStrokeWidth": 2, "clipHeight": 38, "rowPadding": 0,
            "labelOffset": 30, "symbolOffset": 0, "labelFont": "Liberation Serif", "labelFontSize": 32,
            "labelColor": "#3a3f4b", "labelLimit": 700
          }
        }
      }
    }
  ]
}
